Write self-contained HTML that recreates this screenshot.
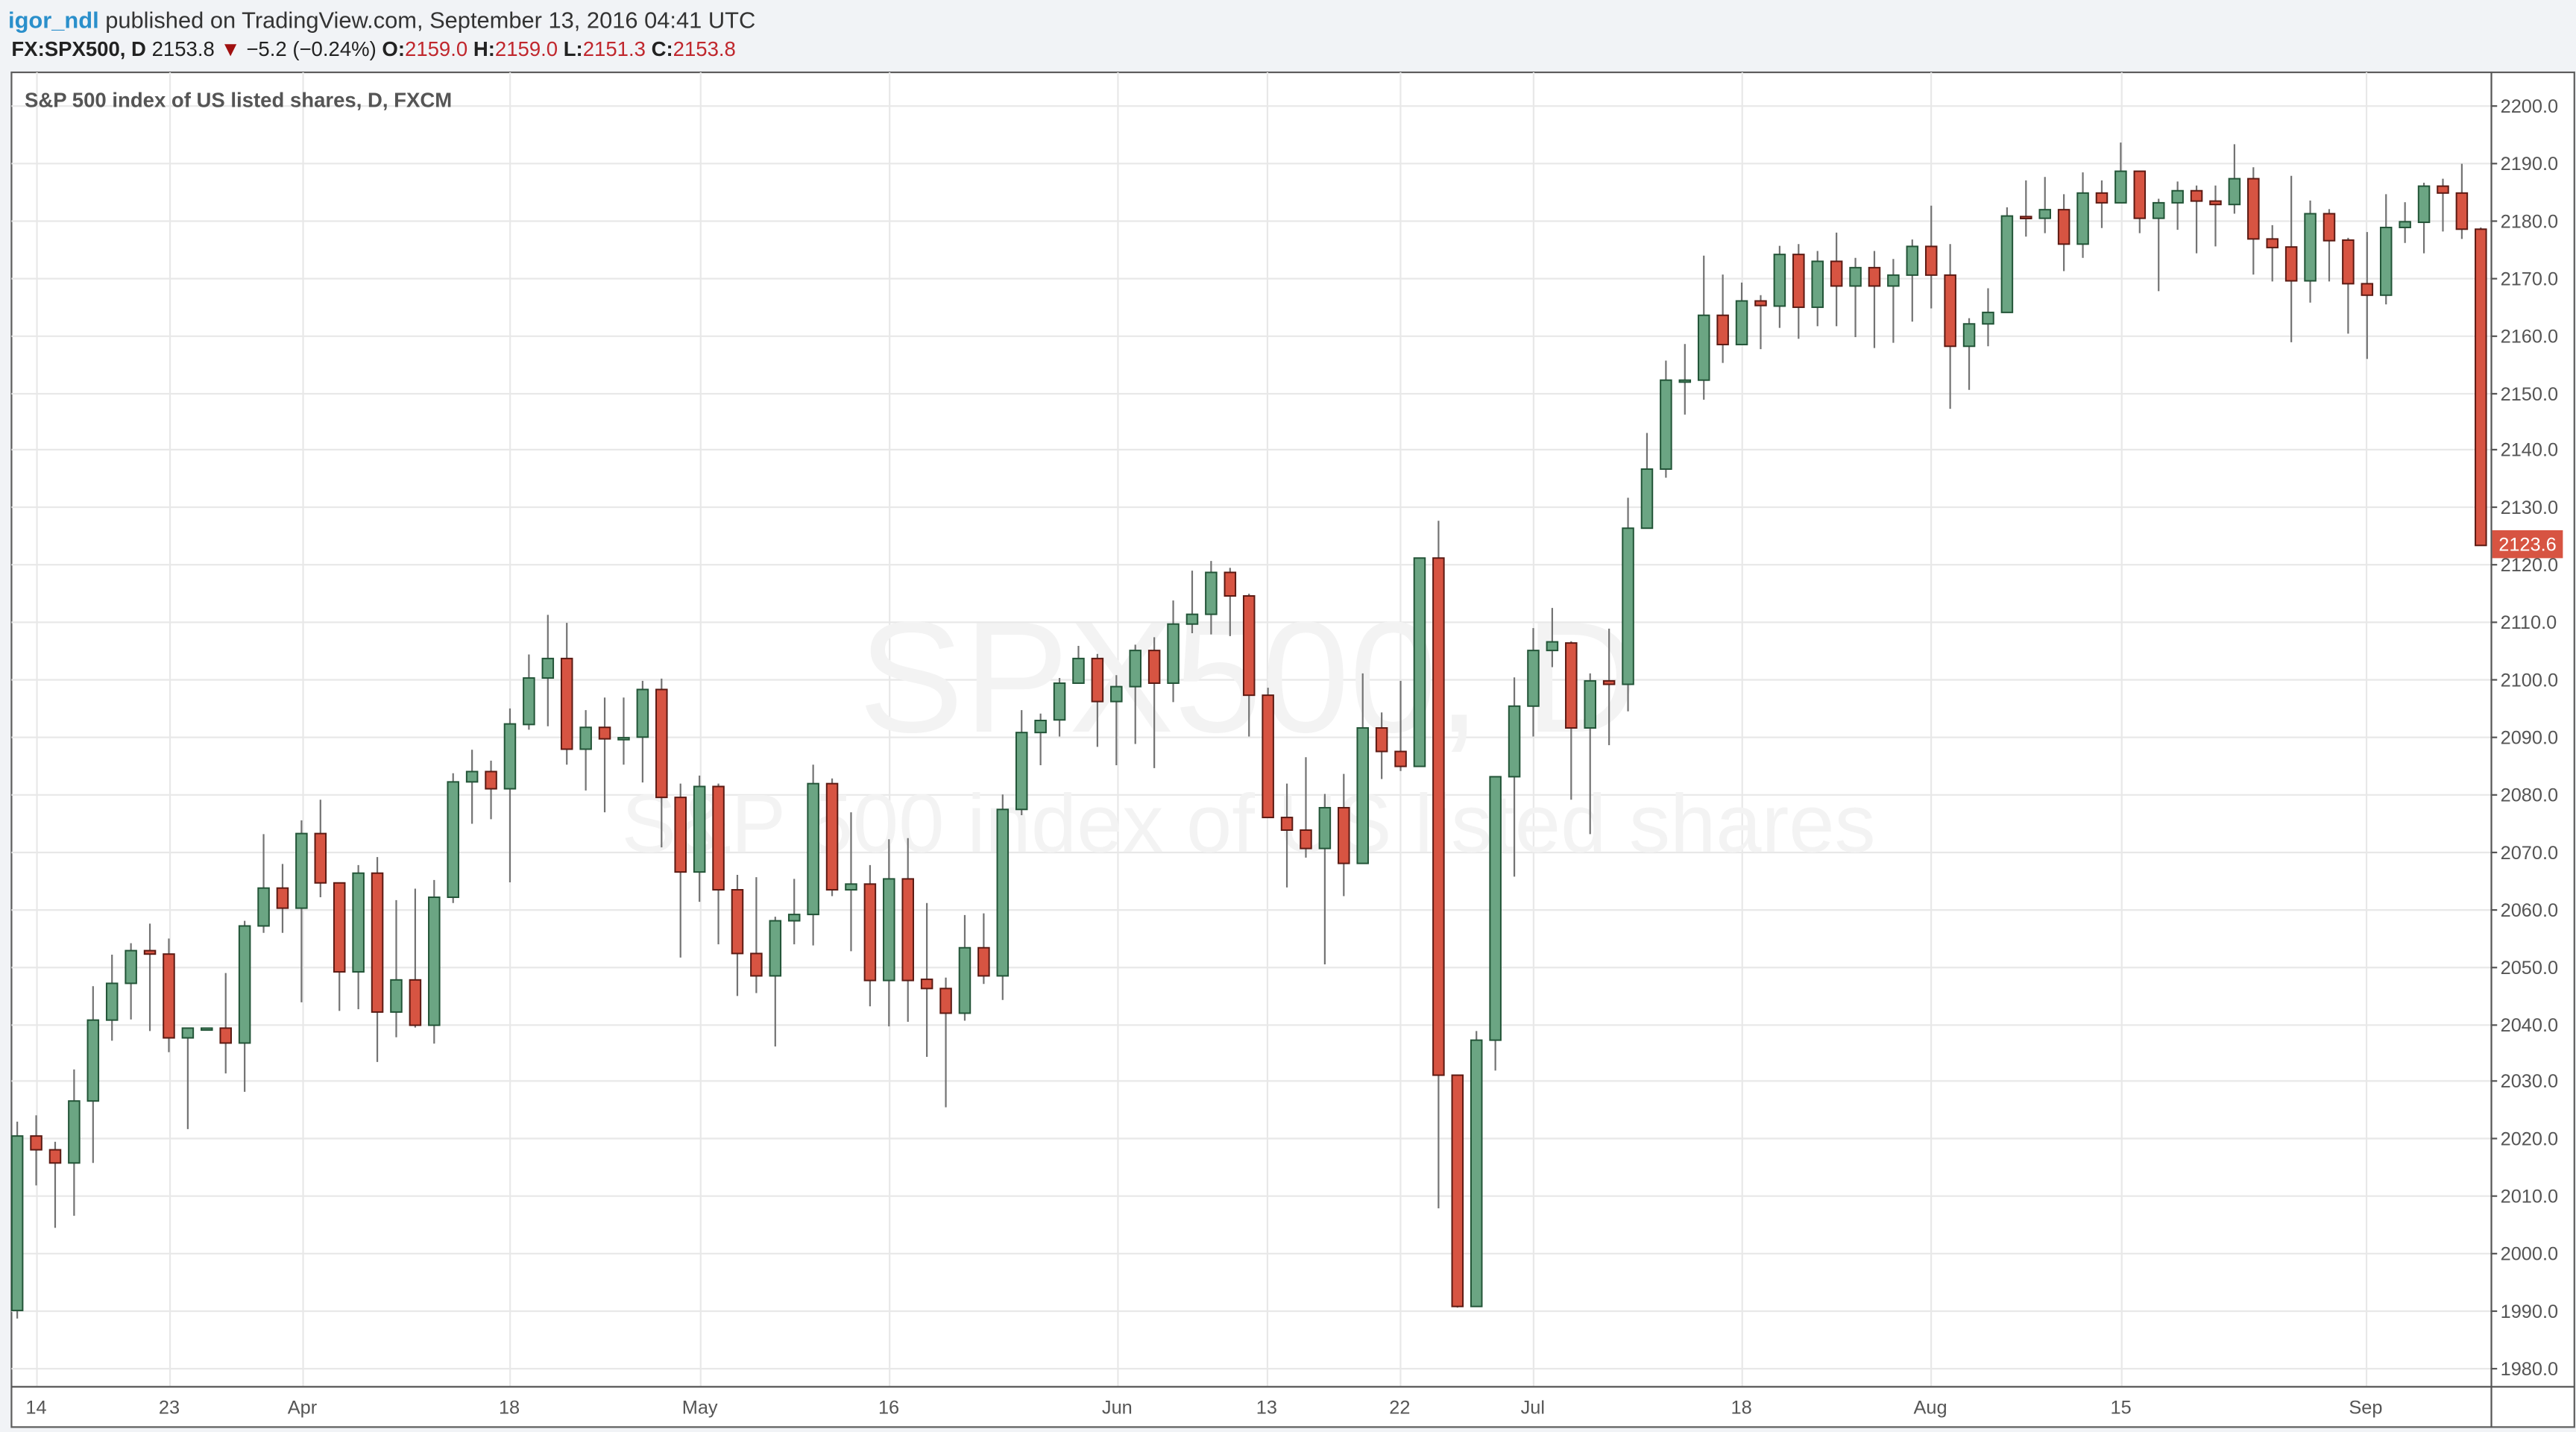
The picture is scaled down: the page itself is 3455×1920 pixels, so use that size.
<!DOCTYPE html>
<html><head><meta charset="utf-8">
<style>
html,body{margin:0;padding:0;background:#f1f3f6;}
svg{display:block;}
text{font-family:"Liberation Sans",sans-serif;}
</style></head>
<body>
<svg id="c" width="3455" height="1920" viewBox="0 0 1568 871" preserveAspectRatio="none" xmlns="http://www.w3.org/2000/svg">
<rect x="0" y="0" width="1568" height="871" fill="#f1f3f6"/>
<rect x="7" y="44" width="1560" height="824" fill="#ffffff" stroke="#5d5d5d" stroke-width="1"/>
<g id="grid" stroke="#e8e8e8" stroke-width="1"></g>
<text x="760" y="445" font-size="96" fill="#f3f3f3" text-anchor="middle">SPX500, D</text>
<text x="760" y="518" font-size="50" fill="#f3f3f3" text-anchor="middle">S&amp;P 500 index of US listed shares</text>
<g id="candles"></g>
<line x1="1516.5" y1="44" x2="1516.5" y2="868" stroke="#555" stroke-width="1"/>
<line x1="7" y1="843.5" x2="1567" y2="843.5" stroke="#555" stroke-width="1"/>
<g id="yax" font-size="11.5" fill="#555"></g>
<g font-size="11.5" fill="#555" text-anchor="middle">
<text x="22" y="860">14</text><text x="103" y="860">23</text><text x="184" y="860">Apr</text>
<text x="310" y="860">18</text><text x="426" y="860">May</text><text x="541" y="860">16</text>
<text x="680" y="860">Jun</text><text x="771" y="860">13</text><text x="852" y="860">22</text>
<text x="933" y="860">Jul</text><text x="1060" y="860">18</text><text x="1175" y="860">Aug</text>
<text x="1291" y="860">15</text><text x="1440" y="860">Sep</text>
</g>
<rect x="1517" y="322.5" width="43" height="17" fill="#d75442"/>
<text x="1538.5" y="335" font-size="11.5" fill="#fff" text-anchor="middle">2123.6</text>
<text x="5" y="17" font-size="14"><tspan fill="#2a8fcb" font-weight="bold">igor_ndl</tspan><tspan fill="#333"> published on TradingView.com, September 13, 2016 04:41 UTC</tspan></text>
<text x="7" y="34" font-size="12.5" fill="#222"><tspan font-weight="bold">FX:SPX500, D</tspan><tspan> 2153.8 </tspan><tspan fill="#a01010">▼</tspan><tspan> −5.2 (−0.24%) </tspan><tspan font-weight="bold">O:</tspan><tspan fill="#c0272d">2159.0 </tspan><tspan font-weight="bold">H:</tspan><tspan fill="#c0272d">2159.0 </tspan><tspan font-weight="bold">L:</tspan><tspan fill="#c0272d">2151.3 </tspan><tspan font-weight="bold">C:</tspan><tspan fill="#c0272d">2153.8</tspan></text>
<text x="15" y="65" font-size="12.5" fill="#555" font-weight="bold">S&amp;P 500 index of US listed shares, D, FXCM</text>
</svg>
<script>
var D=[[1990,2022.9,1988.6,2020.4],[2020.4,2024,2011.8,2018],[2018,2019.4,2004.4,2015.7],[2015.7,2032,2006.5,2026.5],[2026.5,2046.5,2015.7,2040.6],[2040.6,2052,2037,2047],[2047,2054,2040.7,2052.7],[2052.7,2057.4,2038.7,2052.1],[2052.1,2054.8,2035,2037.5],[2037.5,2039.2,2021.6,2039.2],
[2039.2,2039.2,2039.2,2039.2],[2039.2,2048.8,2031.3,2036.6],[2036.6,2057.9,2028.1,2057],[2057,2073,2055.8,2063.6],[2063.6,2067.8,2055.8,2060.1],[2060.1,2075.4,2043.7,2073.1],[2073.1,2079,2062,2064.5],[2064.5,2064.5,2042.2,2049],[2049,2067.6,2042.5,2066.2],[2066.2,2069,2033.3,2042],
[2042,2061.5,2037.6,2047.6],[2047.6,2063.5,2039.3,2039.7],[2039.7,2065,2036.5,2062],[2062,2083.6,2061,2082.1],[2082.1,2087.7,2074.8,2083.9],[2083.9,2085.8,2075.6,2080.9],[2080.9,2094.9,2064.6,2092.2],[2092.1,2104.3,2091.2,2100.2],[2100.2,2111.2,2091.8,2103.6],[2103.6,2109.8,2085.1,2087.8],
[2087.8,2094.6,2080.6,2091.6],[2091.6,2096.8,2076.8,2089.6],[2089.6,2096.8,2085.1,2089.8],[2089.9,2099.7,2082,2098.2],[2098.2,2100.1,2070.7,2079.4],[2079.4,2081.8,2051.5,2066.4],[2066.4,2083.2,2061.2,2081.3],[2081.3,2081.8,2053.8,2063.3],[2063.3,2065.9,2044.8,2052.2],[2052.2,2065.5,2045.3,2048.3],
[2048.3,2058.6,2036,2057.9],[2057.9,2065.2,2053.8,2059],[2059,2085.1,2053.6,2081.8],[2081.8,2082.7,2062.2,2063.3],[2063.3,2076.8,2052.6,2064.3],[2064.3,2067.6,2043,2047.5],[2047.5,2072.1,2039.5,2065.2],[2065.2,2072.3,2040.3,2047.5],[2047.7,2061,2034.2,2046.1],[2046.1,2048,2025.4,2041.8],
[2041.8,2058.9,2040.5,2053.2],[2053.2,2059.2,2046.9,2048.3],[2048.3,2079.9,2044.1,2077.3],[2077.3,2094.6,2076.3,2090.7],[2090.7,2094,2085,2092.8],[2092.9,2100.2,2090,2099.3],[2099.3,2105.8,2099.3,2103.6],[2103.6,2104.4,2088.2,2096.1],[2096.1,2100.7,2085,2098.7],[2098.7,2106,2088.7,2105],
[2105,2107.3,2084.5,2099.3],[2099.3,2113.7,2096,2109.6],[2109.6,2118.9,2108,2111.3],[2111.3,2120.6,2107.8,2118.6],[2118.6,2119.4,2107.5,2114.5],[2114.5,2114.9,2090,2097.2],[2097.2,2098.5,2075.9,2075.9],[2075.9,2081.8,2063.7,2073.7],[2073.7,2086.4,2068.9,2070.5],[2070.5,2080,2050.3,2077.6],
[2077.6,2083.5,2062.2,2067.9],[2067.9,2101,2067.9,2091.5],[2091.5,2094.2,2082.6,2087.4],[2087.4,2099.7,2084,2084.8],[2084.8,2121.1,2084.8,2121.1],[2121.1,2127.6,2007.8,2031],[2031,2031,1990.5,1990.7],[1990.7,2038.7,1990.7,2037.1],[2037.1,2083,2031.8,2083],[2083,2100.3,2065.6,2095.3],
[2095.3,2108.9,2090,2105],[2105,2112.4,2102.1,2106.5],[2106.3,2106.6,2079,2091.5],[2091.5,2101,2073,2099.7],[2099.7,2108.8,2088.5,2099.1],[2099.1,2131.6,2094.4,2126.3],[2126.3,2142.9,2126.3,2136.6],[2136.6,2155.5,2135.1,2152.1],[2152.1,2158.4,2146.1,2152.1],[2152.1,2173.8,2148.7,2163.4],
[2163.4,2170.5,2155.1,2158.3],[2158.3,2169.1,2158.3,2165.9],[2165.9,2166.9,2157.5,2165.1],[2165,2175.5,2161.2,2174],[2174,2175.8,2159.3,2164.8],[2164.8,2174.6,2161.5,2172.8],[2172.8,2177.8,2161.5,2168.5],[2168.5,2173.4,2159.6,2171.7],[2171.7,2174.6,2157.7,2168.5],[2168.5,2173.2,2158.6,2170.4],
[2170.4,2176.6,2162.3,2175.4],[2175.4,2182.5,2164.6,2170.4],[2170.4,2175.8,2147.1,2158],[2158,2162.9,2150.4,2161.9],[2161.9,2168.1,2158,2163.9],[2163.9,2182.2,2163.9,2180.7],[2180.6,2186.9,2177.1,2180.3],[2180.3,2187.5,2177.7,2181.8],[2181.8,2184.5,2171.1,2175.8],[2175.8,2188.3,2173.4,2184.7],
[2184.7,2186.9,2178.6,2183],[2183,2193.5,2183,2188.5],[2188.5,2188.5,2177.7,2180.3],[2180.3,2183.7,2167.6,2183],[2183,2186.7,2178.3,2185.1],[2185.1,2186,2174.2,2183.3],[2183.3,2186,2175.4,2182.7],[2182.7,2193.2,2181.1,2187.2],[2187.2,2189.2,2170.5,2176.7],[2176.7,2179.1,2169.3,2175.2],
[2175.3,2187.7,2158.7,2169.4],[2169.4,2183.4,2165.6,2181.1],[2181.1,2181.9,2169.3,2176.4],[2176.5,2176.9,2160.2,2168.9],[2168.9,2177.9,2155.8,2166.9],[2166.9,2184.5,2165.3,2178.7],[2178.7,2183.1,2176,2179.7],[2179.6,2186.5,2174.2,2185.9],[2185.9,2187.2,2178,2184.7],[2184.7,2189.8,2176.7,2178.4],
[2178.4,2178.7,2123.3,2123.3]];
var NS="http://www.w3.org/2000/svg";
function Y(p){return 64+(2200-p)*3.4909;}
function el(t,a,par){var e=document.createElementNS(NS,t);for(var k in a)e.setAttribute(k,a[k]);par.appendChild(e);return e;}
var g=document.getElementById('grid'),cg=document.getElementById('candles'),ya=document.getElementById('yax');
for(var p=1980;p<=2200;p+=10){var y=Math.round(Y(p))+0.5;el('line',{x1:7,y1:y,x2:1516,y2:y},g);
el('line',{x1:1516,y1:y,x2:1520,y2:y,stroke:'#555'},ya);
var t=el('text',{x:1522,y:y+4},ya);t.textContent=p+'.0';}
[22,103,184,310,426,541,680,771,852,933,1060,1175,1291,1440].forEach(function(x){el('line',{x1:x+0.5,y1:44,x2:x+0.5,y2:843},g);});
D.forEach(function(d,i){var x=10.5+i*11.535,o=d[0],h=d[1],l=d[2],c=d[3],up=c>=o;
el('line',{x1:x,y1:Y(h),x2:x,y2:Y(l),stroke:'#737373','stroke-width':1},cg);
var top=Y(Math.max(o,c)),bh=Math.max(Y(Math.min(o,c))-top,1.2);
el('rect',{x:x-3.3,y:top,width:6.6,height:bh,fill:up?'#6ba583':'#d75442',stroke:up?'#225437':'#5b1a13','stroke-width':0.9},cg);});
</script>
</body></html>
